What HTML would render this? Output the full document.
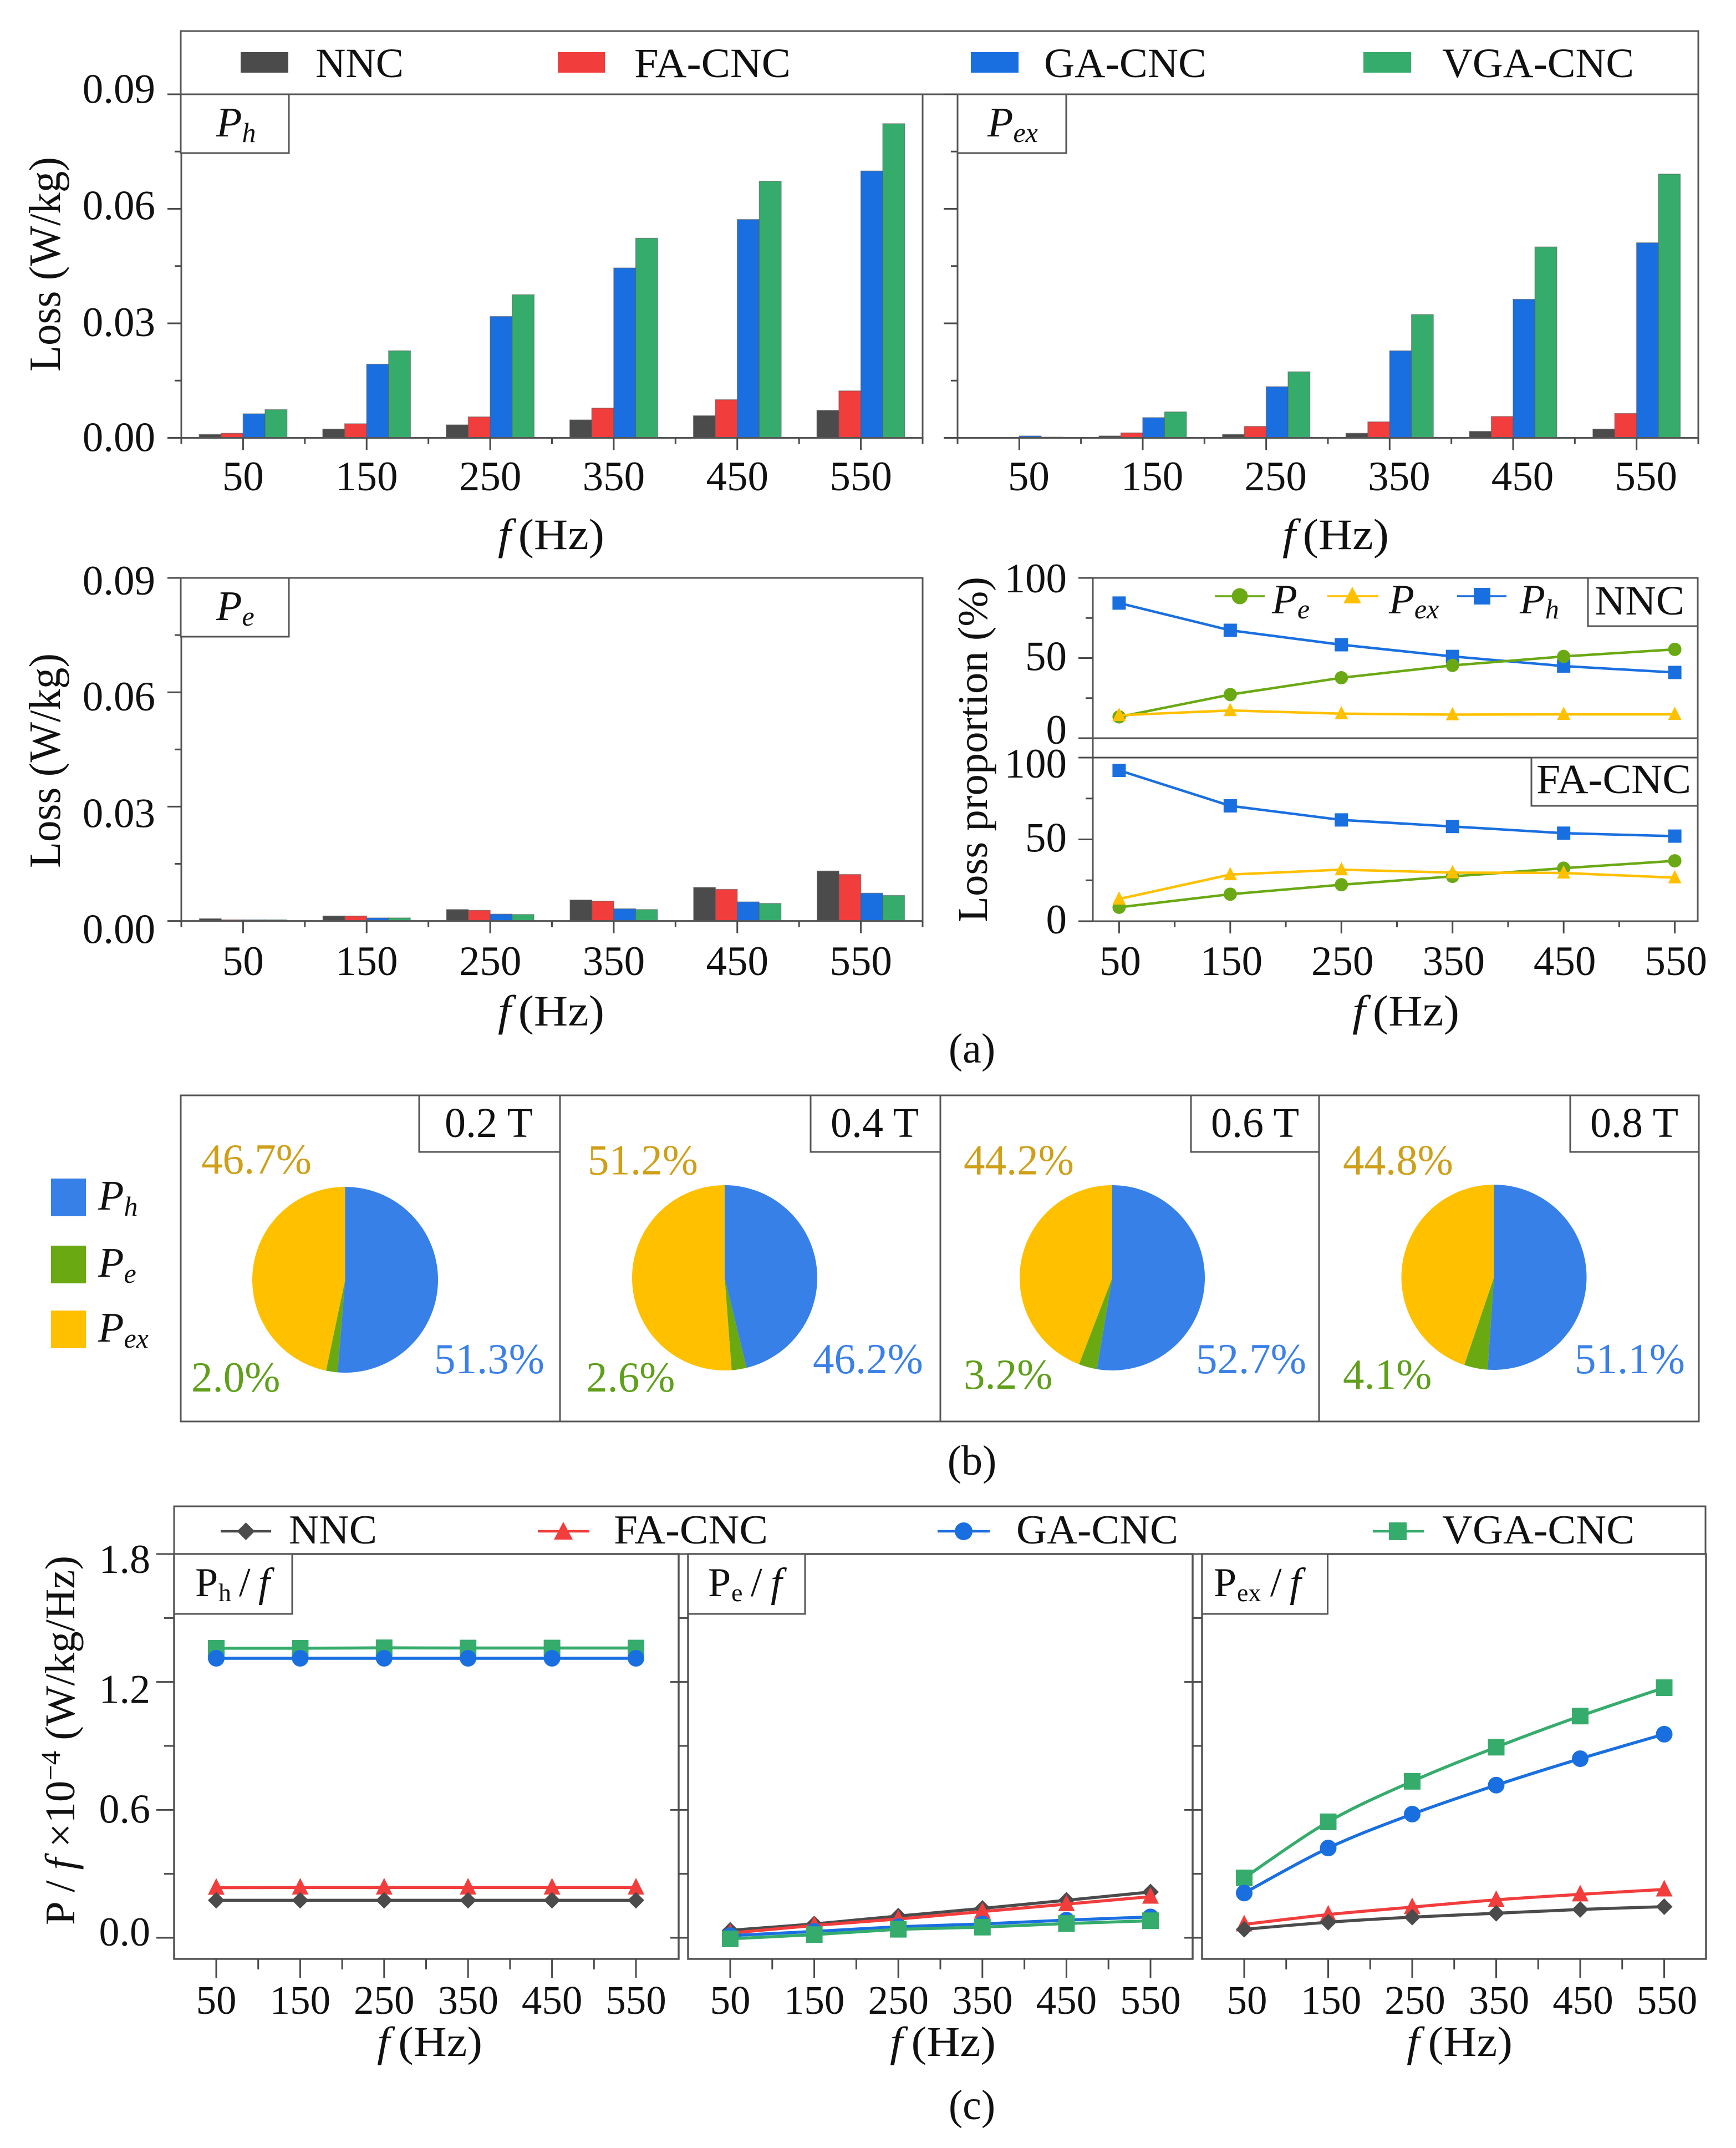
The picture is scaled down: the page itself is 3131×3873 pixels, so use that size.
<!DOCTYPE html>
<html lang="en">
<head>
<meta charset="utf-8">
<title>Loss separation charts</title>
<style>
html,body{margin:0;padding:0;background:#fff;}
svg{display:block;}
text{font-family:"Liberation Serif",serif;fill:#111;}
.i{font-style:italic;}
.box{fill:#fff;stroke:#555;stroke-width:3;}
.frame{fill:none;stroke:#555;stroke-width:3;}
</style>
</head>
<body>
<svg id="figure" xmlns="http://www.w3.org/2000/svg" width="3131" height="3873" viewBox="0 0 3131 3873">
<rect x="0" y="0" width="3131" height="3873" fill="#fff"/>

<!-- panel (a) top legend -->
<g>
  <rect class="frame" x="326" y="56" width="2737" height="114"/>
  <rect x="434" y="94" width="86" height="37" fill="#4b4b4b"/>
  <text x="569" y="139" font-size="75" textLength="159" lengthAdjust="spacingAndGlyphs">NNC</text>
  <rect x="1006" y="94" width="85" height="37" fill="#f23d3d"/>
  <text x="1144" y="139" font-size="75" textLength="282" lengthAdjust="spacingAndGlyphs">FA-CNC</text>
  <rect x="1751" y="94" width="86" height="37" fill="#1a6fe0"/>
  <text x="1883" y="139" font-size="75" textLength="293" lengthAdjust="spacingAndGlyphs">GA-CNC</text>
  <rect x="2459" y="94" width="86" height="37" fill="#36ac6c"/>
  <text x="2601" y="139" font-size="75" textLength="346" lengthAdjust="spacingAndGlyphs">VGA-CNC</text>
</g>

<g id="plots"></g>

<!-- panel (a) labels -->
<g>
  <rect class="box" x="326" y="170" width="195" height="106"/>
  <text x="390" y="246" font-size="76" class="i">P<tspan font-size="50" dy="10">h</tspan></text>
  <rect class="box" x="1727" y="170" width="196" height="106"/>
  <text x="1781" y="246" font-size="76" class="i">P<tspan font-size="50" dy="10">ex</tspan></text>
  <rect class="box" x="326" y="1042" width="195" height="106"/>
  <text x="390" y="1118" font-size="76" class="i">P<tspan font-size="50" dy="10">e</tspan></text>

  <text transform="translate(108,476.5) rotate(-90)" text-anchor="middle" font-size="80" textLength="387" lengthAdjust="spacingAndGlyphs">Loss (W/kg)</text>
  <text transform="translate(108,1371.5) rotate(-90)" text-anchor="middle" font-size="80" textLength="387" lengthAdjust="spacingAndGlyphs">Loss (W/kg)</text>
  <text transform="translate(1780,1351.5) rotate(-90)" text-anchor="middle" font-size="76" textLength="623" lengthAdjust="spacingAndGlyphs">Loss proportion (%)</text>

  <text x="898" y="990" font-size="78" textLength="192" lengthAdjust="spacingAndGlyphs"><tspan class="i">f</tspan><tspan dx="12">(Hz)</tspan></text>
  <text x="2313" y="990" font-size="78" textLength="192" lengthAdjust="spacingAndGlyphs"><tspan class="i">f</tspan><tspan dx="12">(Hz)</tspan></text>
  <text x="898" y="1849" font-size="78" textLength="192" lengthAdjust="spacingAndGlyphs"><tspan class="i">f</tspan><tspan dx="12">(Hz)</tspan></text>
  <text x="2439" y="1849" font-size="78" textLength="193" lengthAdjust="spacingAndGlyphs"><tspan class="i">f</tspan><tspan dx="12">(Hz)</tspan></text>
  <text x="1753" y="1916" text-anchor="middle" font-size="76">(a)</text>

  <rect class="box" x="2864" y="1042" width="198" height="87"/>
  <text x="2876" y="1108" font-size="75" textLength="162" lengthAdjust="spacingAndGlyphs">NNC</text>
  <rect class="box" x="2762" y="1366" width="300" height="87"/>
  <text x="2771" y="1430" font-size="75" textLength="279" lengthAdjust="spacingAndGlyphs">FA-CNC</text>

  <g>
    <line x1="2191" y1="1075" x2="2281" y2="1075" stroke="#6aa914" stroke-width="3.5"/>
    <circle cx="2236" cy="1075" r="14.5" fill="#6aa914"/>
    <text x="2294" y="1106" font-size="75" class="i">P<tspan font-size="50" dy="9">e</tspan></text>
    <line x1="2394" y1="1075" x2="2486" y2="1075" stroke="#ffc000" stroke-width="3.5"/>
    <polygon points="2439,1058 2455,1088 2423,1088" fill="#ffc000"/>
    <text x="2505" y="1106" font-size="75" class="i">P<tspan font-size="50" dy="9">ex</tspan></text>
    <line x1="2628" y1="1075" x2="2717" y2="1075" stroke="#1a6fe0" stroke-width="3.5"/>
    <rect x="2658" y="1060" width="30" height="30" fill="#1a6fe0"/>
    <text x="2741" y="1106" font-size="75" class="i">P<tspan font-size="50" dy="9">h</tspan></text>
  </g>
</g>

<!-- panel (b) frames -->
<g>
  <rect class="frame" x="326" y="1975" width="2738" height="588"/>
  <line x1="1010" y1="1975" x2="1010" y2="2563" stroke="#555" stroke-width="3"/>
  <line x1="1696" y1="1975" x2="1696" y2="2563" stroke="#555" stroke-width="3"/>
  <line x1="2379" y1="1975" x2="2379" y2="2563" stroke="#555" stroke-width="3"/>
  <rect class="box" x="756" y="1975" width="254" height="102"/>
  <text x="802" y="2050" font-size="76">0.2 T</text>
  <rect class="box" x="1462" y="1975" width="234" height="102"/>
  <text x="1498" y="2050" font-size="76">0.4 T</text>
  <rect class="box" x="2148" y="1975" width="231" height="102"/>
  <text x="2184" y="2050" font-size="76">0.6 T</text>
  <rect class="box" x="2832" y="1975" width="232" height="102"/>
  <text x="2868" y="2050" font-size="76">0.8 T</text>
  <g>
    <rect x="92" y="2125" width="63" height="68" fill="#3780e8"/>
    <text x="177" y="2181" font-size="76" class="i">P<tspan font-size="50" dy="11">h</tspan></text>
    <rect x="92" y="2246" width="63" height="68" fill="#6aa912"/>
    <text x="177" y="2302" font-size="76" class="i">P<tspan font-size="50" dy="11">e</tspan></text>
    <rect x="92" y="2363" width="63" height="68" fill="#ffc000"/>
    <text x="177" y="2419" font-size="76" class="i">P<tspan font-size="50" dy="11">ex</tspan></text>
  </g>
  <text x="1753" y="2659" text-anchor="middle" font-size="76">(b)</text>
</g>

<!-- panel (c) labels -->
<g>
  <g>
    <rect class="frame" x="314" y="2716" width="2762" height="86"/>
    <line x1="398" y1="2761" x2="489" y2="2761" stroke="#4b4b4b" stroke-width="4.5"/>
    <polygon points="443.5,2745 459.5,2761 443.5,2777 427.5,2761" fill="#4b4b4b"/>
    <text x="521" y="2783" font-size="74" textLength="159" lengthAdjust="spacingAndGlyphs">NNC</text>
    <line x1="970" y1="2761" x2="1063" y2="2761" stroke="#f23d3d" stroke-width="4.5"/>
    <polygon points="1016,2744 1033,2776 999,2776" fill="#f23d3d"/>
    <text x="1107" y="2783" font-size="74" textLength="278" lengthAdjust="spacingAndGlyphs">FA-CNC</text>
    <line x1="1691" y1="2761" x2="1785" y2="2761" stroke="#1a6fe0" stroke-width="4.5"/>
    <circle cx="1738" cy="2761" r="16" fill="#1a6fe0"/>
    <text x="1833" y="2783" font-size="74" textLength="292" lengthAdjust="spacingAndGlyphs">GA-CNC</text>
    <line x1="2476" y1="2761" x2="2568" y2="2761" stroke="#36ac6c" stroke-width="4.5"/>
    <rect x="2505" y="2745" width="32" height="32" fill="#36ac6c"/>
    <text x="2601" y="2783" font-size="74" textLength="347" lengthAdjust="spacingAndGlyphs">VGA-CNC</text>
  </g>
  <rect class="box" x="314" y="2802" width="213" height="108"/>
  <text y="2878" font-size="74"><tspan x="352">P</tspan><tspan x="394" font-size="46" dy="9">h</tspan><tspan x="431" dy="-9">/</tspan><tspan x="466" class="i">f</tspan></text>
  <rect class="box" x="1241" y="2802" width="211" height="108"/>
  <text y="2878" font-size="74"><tspan x="1277">P</tspan><tspan x="1319" font-size="46" dy="9">e</tspan><tspan x="1354" dy="-9">/</tspan><tspan x="1390" class="i">f</tspan></text>
  <rect class="box" x="2168" y="2802" width="226.5" height="108"/>
  <text y="2878" font-size="74"><tspan x="2189">P</tspan><tspan x="2231" font-size="46" dy="9">ex</tspan><tspan x="2291" dy="-9">/</tspan><tspan x="2326" class="i">f</tspan></text>

  <text transform="translate(134,3138) rotate(-90)" text-anchor="middle" font-size="76" textLength="666" lengthAdjust="spacingAndGlyphs">P / <tspan class="i">f</tspan> ×10<tspan font-size="50" dy="-26">−4</tspan><tspan dy="26"> (W/kg/Hz)</tspan></text>

  <text x="680" y="3707" font-size="76" textLength="190" lengthAdjust="spacingAndGlyphs"><tspan class="i">f</tspan><tspan dx="14">(Hz)</tspan></text>
  <text x="1605" y="3707" font-size="76" textLength="191" lengthAdjust="spacingAndGlyphs"><tspan class="i">f</tspan><tspan dx="14">(Hz)</tspan></text>
  <text x="2537" y="3707" font-size="76" textLength="191" lengthAdjust="spacingAndGlyphs"><tspan class="i">f</tspan><tspan dx="14">(Hz)</tspan></text>
  <text x="1753" y="3821" text-anchor="middle" font-size="76">(c)</text>
</g>
</svg>

<script>
// ---------- shared categories and tick labels ----------
const frequencies = [50, 150, 250, 350, 450, 550];
const frequencyLabels = ['50', '150', '250', '350', '450', '550'];
const lossTickLabels = ['0.00', '0.03', '0.06', '0.09'];
const proportionTickLabels = ['0', '50', '100'];
const ratioTickLabels = ['0.0', '0.6', '1.2', '1.8'];

// ---------- P_h bars (W/kg) ----------
const phNNC = [0.0009, 0.0023, 0.0034, 0.0047, 0.0058, 0.0072];
const phFA = [0.0012, 0.0037, 0.0055, 0.0078, 0.0100, 0.0123];
const phGA = [0.0063, 0.0193, 0.0318, 0.0445, 0.0572, 0.0699];
const phVGA = [0.0074, 0.0228, 0.0375, 0.0523, 0.0672, 0.0823];

// ---------- P_ex bars (W/kg) ----------
const pexNNC = [0.0001, 0.0005, 0.0009, 0.0012, 0.0017, 0.0023];
const pexFA = [0.0001, 0.0013, 0.0030, 0.0042, 0.0056, 0.0064];
const pexGA = [0.0005, 0.0053, 0.0134, 0.0228, 0.0363, 0.0511];
const pexVGA = [0.0002, 0.0068, 0.0173, 0.0323, 0.0500, 0.0691];

// ---------- P_e bars (W/kg) ----------
const peNNC = [0.0006, 0.0013, 0.0030, 0.0055, 0.0088, 0.0131];
const peFA = [0.0003, 0.0013, 0.0028, 0.0052, 0.0083, 0.0122];
const peGA = [0.0003, 0.0008, 0.0018, 0.0032, 0.0050, 0.0073];
const peVGA = [0.0003, 0.0008, 0.0017, 0.0030, 0.0046, 0.0067];

// ---------- loss proportion lines (%) ----------
const nncShareH = [84.3, 67.3, 58.3, 51.0, 45.0, 41.0];
const nncShareE = [13.3, 27.2, 37.7, 45.4, 51.0, 55.4];
const nncShareEx = [14.3, 17.3, 15.3, 14.7, 14.9, 14.9];
const faShareH = [92.2, 70.5, 61.9, 57.9, 53.8, 52.0];
const faShareE = [8.5, 16.5, 22.3, 27.4, 32.4, 36.9];
const faShareEx = [13.6, 28.5, 31.5, 29.7, 29.5, 26.6];

// ---------- pies (%) ----------
const pieFields = ['0.2 T', '0.4 T', '0.6 T', '0.8 T'];
const piePh = [51.3, 46.2, 52.7, 51.1];
const piePe = [2.0, 2.6, 3.2, 4.1];
const piePex = [46.7, 51.2, 44.2, 44.8];

// ---------- P/f lines ----------
const phfNNC = [0.176, 0.176, 0.176, 0.176, 0.176, 0.176];
const phfFA = [0.235, 0.236, 0.236, 0.236, 0.236, 0.236];
const phfGA = [1.311, 1.311, 1.311, 1.311, 1.311, 1.311];
const phfVGA = [1.358, 1.358, 1.360, 1.359, 1.359, 1.359];
const pefNNC = [0.035, 0.065, 0.102, 0.138, 0.176, 0.215];
const pefFA = [0.022, 0.058, 0.088, 0.123, 0.158, 0.193];
const pefGA = [0.010, 0.030, 0.052, 0.065, 0.083, 0.098];
const pefVGA = [-0.005, 0.015, 0.040, 0.050, 0.067, 0.080];
const pexfNNC = [0.040, 0.073, 0.097, 0.115, 0.133, 0.146];
const pexfFA = [0.063, 0.109, 0.144, 0.178, 0.204, 0.227];
const pexfGA = [0.210, 0.421, 0.580, 0.716, 0.840, 0.955];
const pexfVGA = [0.281, 0.544, 0.734, 0.894, 1.040, 1.173];

// ---------- drawing helpers ----------
const SVG_NS = 'http://www.w3.org/2000/svg';
const root = document.getElementById('plots');
const AXIS = '#4a4a4a';
const COLORS = { nnc: '#4b4b4b', fa: '#f23d3d', ga: '#1a6fe0', vga: '#36ac6c', pe: '#6aa914', pex: '#ffc000', ph: '#1a6fe0' };

function make(parent, tag, attrs, text) {
  const el = document.createElementNS(SVG_NS, tag);
  for (const k in attrs) el.setAttribute(k, attrs[k]);
  if (text !== undefined) el.textContent = text;
  parent.appendChild(el);
  return el;
}
function linearScale(dMin, dMax, rMin, rMax) {
  return v => rMin + (v - dMin) / (dMax - dMin) * (rMax - rMin);
}
function bandScale(n, left, right) {
  return i => left + (i + 0.5) * (right - left) / n;
}
function newGroup(name) {
  const g = make(root, 'g', {});
  
  
  return g;
}
function tick(g, x1, y1, x2, y2, name, w) {
  const l = make(g, 'line', { x1, y1, x2, y2, stroke: AXIS, 'stroke-width': w || 3 });
  
  
}
function drawYAxis(g, o) {
  const y = o.y;
  const values = o.tickLabels.map(Number);
  values.forEach((v, i) => {
    tick(g, o.x - o.major, y(v), o.x, y(v), 'y-tick');
    if (o.showLabels) {
      const t = make(g, 'text', { x: o.labelX, y: y(v) + o.labelDy[i], 'text-anchor': 'end', 'font-size': o.fontSize }, o.tickLabels[i]);
      
      
    }
    if (i < values.length - 1) {
      const m = y((v + values[i + 1]) / 2);
      tick(g, o.x - o.minor, m, o.x, m, 'y-minor-tick');
    }
  });
}
function drawXAxis(g, o) {
  frequencyLabels.forEach((lab, i) => {
    const cx = o.x(i);
    tick(g, cx, o.y0, cx, o.y0 + o.major, 'x-tick');
    const t = make(g, 'text', { x: cx + o.labelDx, y: o.labelY, 'text-anchor': 'middle', 'font-size': o.fontSize }, lab);
    
    
    if (i < frequencyLabels.length - 1) {
      const m = (cx + o.x(i + 1)) / 2;
      tick(g, m, o.y0, m, o.y0 + o.minor, 'x-minor-tick');
    }
  });
  if (o.edges) {
    o.edges.forEach(ex => tick(g, ex, o.y0, ex, o.y0 + o.minor, 'x-minor-tick'));
  }
}
function drawFrame(g, left, right, top, bottom, w) {
  const r = make(g, 'rect', { x: left, y: top, width: right - left, height: bottom - top, fill: 'none', stroke: '#555', 'stroke-width': w || 3 });
  
  
}
function drawBars(name, o, series) {
  const g = newGroup(name);
  const x = bandScale(frequencies.length, o.left, o.right);
  const y = linearScale(0, 0.09, o.y0, o.top);
  series.forEach((s, si) => {
    s.values.forEach((v, i) => {
      const bx = x(i) + (si - series.length / 2) * o.barW;
      const r = make(g, 'rect', { x: bx, y: y(v), width: o.barW, height: y(0) - y(v), fill: s.color, stroke: '#5a5a5a', 'stroke-opacity': 0.55, 'stroke-width': 1.5 });
      
      
    });
  });
  drawFrame(g, o.left, o.right, o.top, o.y0);
  drawYAxis(g, { x: o.left, y, tickLabels: lossTickLabels, major: 25, minor: 12, showLabels: o.showLabels, labelX: 280, labelDy: o.labelDy, fontSize: 75 });
  drawXAxis(g, { x, y0: o.y0, major: 22, minor: 11, labelDx: o.labelDx, labelY: o.labelY, fontSize: 75,
    edges: [o.left, o.right] });
}
function drawMarker(g, kind, cx, cy, s, color) {
  let m;
  if (kind === 'circle') m = make(g, 'circle', { cx, cy, r: s, fill: color });
  if (kind === 'square') m = make(g, 'rect', { x: cx - s, y: cy - s, width: 2 * s, height: 2 * s, fill: color });
  if (kind === 'triangle') m = make(g, 'polygon', { points: `${cx},${cy - s * 1.15} ${cx + s},${cy + s * 0.85} ${cx - s},${cy + s * 0.85}`, fill: color });
  if (kind === 'diamond') m = make(g, 'polygon', { points: `${cx},${cy - s} ${cx + s},${cy} ${cx},${cy + s} ${cx - s},${cy}`, fill: color });
  return m;
}
function pathThrough(pts, smooth) {
  let d = `M${pts[0][0]} ${pts[0][1]}`;
  for (let i = 1; i < pts.length; i++) {
    if (!smooth) { d += ` L${pts[i][0]} ${pts[i][1]}`; continue; }
    const p0 = pts[i - 2] || pts[i - 1], p1 = pts[i - 1], p2 = pts[i], p3 = pts[i + 1] || pts[i];
    d += ` C${p1[0] + (p2[0] - p0[0]) / 6} ${p1[1] + (p2[1] - p0[1]) / 6} ${p2[0] - (p3[0] - p1[0]) / 6} ${p2[1] - (p3[1] - p1[1]) / 6} ${p2[0]} ${p2[1]}`;
  }
  return d;
}
function drawLines(g, o, series) {
  series.forEach(s => {
    const pts = s.values.map((v, i) => [o.x(frequencies[i]), o.y(v)]);
    const p = make(g, 'path', { d: pathThrough(pts, o.smooth), fill: 'none', stroke: s.color, 'stroke-width': o.lineW });
    
    
    pts.forEach((pt, i) => {
      const m = drawMarker(g, s.marker, pt[0], pt[1], o.markerSize, s.color);
      
      
    });
  });
}
function bandOf(scale) {
  return i => scale(frequencies[i]);
}

// ---------- panel (a): bars ----------
drawBars('ph-bar-chart', { left: 327, right: 1664, top: 170, y0: 789.5, barW: 39.6, showLabels: true, labelDy: [24, 23, 19, 15.5], labelDx: 0, labelY: 884 }, [
  { key: 'nnc', color: COLORS.nnc, values: phNNC },
  { key: 'fa-cnc', color: COLORS.fa, values: phFA },
  { key: 'ga-cnc', color: COLORS.ga, values: phGA },
  { key: 'vga-cnc', color: COLORS.vga, values: phVGA }
]);
drawBars('pex-bar-chart', { left: 1727, right: 3063, top: 170, y0: 789.5, barW: 39.4, showLabels: false, labelDy: [], labelDx: 17, labelY: 884 }, [
  { key: 'nnc', color: COLORS.nnc, values: pexNNC },
  { key: 'fa-cnc', color: COLORS.fa, values: pexFA },
  { key: 'ga-cnc', color: COLORS.ga, values: pexGA },
  { key: 'vga-cnc', color: COLORS.vga, values: pexVGA }
]);
drawBars('pe-bar-chart', { left: 327, right: 1664, top: 1042, y0: 1660.6, barW: 39.4, showLabels: true, labelDy: [40, 37, 33, 30], labelDx: 0, labelY: 1758 }, [
  { key: 'nnc', color: COLORS.nnc, values: peNNC },
  { key: 'fa-cnc', color: COLORS.fa, values: peFA },
  { key: 'ga-cnc', color: COLORS.ga, values: peGA },
  { key: 'vga-cnc', color: COLORS.vga, values: peVGA }
]);

// ---------- panel (a): proportion lines ----------
(function () {
  const x = linearScale(50, 550, 2018.4, 3020.6);
  const gTop = newGroup('nnc-proportion-chart');
  const yTop = linearScale(0, 100, 1331, 1042);
  drawFrame(gTop, 1971, 3062, 1042, 1331);
  drawYAxis(gTop, { x: 1971, y: yTop, tickLabels: proportionTickLabels, major: 26, minor: 13, showLabels: true, labelX: 1924, labelDy: [10, 22, 26], fontSize: 75 });
  drawLines(gTop, { x, y: yTop, smooth: false, lineW: 4.5, markerSize: 12 }, [
    { key: 'nnc-ph', color: COLORS.ph, marker: 'square', values: nncShareH },
    { key: 'nnc-pe', color: COLORS.pe, marker: 'circle', values: nncShareE },
    { key: 'nnc-pex', color: COLORS.pex, marker: 'triangle', values: nncShareEx }
  ]);

  const gBot = newGroup('fa-cnc-proportion-chart');
  const yBot = linearScale(0, 100, 1661, 1366);
  drawFrame(gBot, 1971, 3062, 1331, 1661);
  tick(gBot, 1971, 1366, 3062, 1366, 'panel-top-axis');
  drawYAxis(gBot, { x: 1971, y: yBot, tickLabels: proportionTickLabels, major: 26, minor: 13, showLabels: true, labelX: 1924, labelDy: [22, 22, 36], fontSize: 75 });
  drawXAxis(gBot, { x: bandOf(x), y0: 1661, major: 22, minor: 11, labelDx: 2, labelY: 1758, fontSize: 75 });
  drawLines(gBot, { x, y: yBot, smooth: false, lineW: 4.5, markerSize: 12 }, [
    { key: 'fa-ph', color: COLORS.ph, marker: 'square', values: faShareH },
    { key: 'fa-pe', color: COLORS.pe, marker: 'circle', values: faShareE },
    { key: 'fa-pex', color: COLORS.pex, marker: 'triangle', values: faShareEx }
  ]);
})();

// ---------- panel (b): pies ----------
const pieSliceColors = { ph: '#3780e8', pe: '#6aa912', pex: '#ffc000' };
const pieTextColors = { ph: '#3a80e8', pe: '#5f9f1a', pex: '#cf9f18' };
const pieLayouts = [
  { cx: 622.5, cy: 2307.5, r: 167.5, pexX: 363, pexY: 2116, peX: 345, peY: 2509, phX: 783, phY: 2476 },
  { cx: 1307, cy: 2304, r: 167, pexX: 1060, pexY: 2117.5, peX: 1057, peY: 2509, phX: 1466, phY: 2476 },
  { cx: 2006, cy: 2304, r: 167, pexX: 1738, pexY: 2117.5, peX: 1738, peY: 2504, phX: 2157, phY: 2476 },
  { cx: 2694.5, cy: 2303, r: 167, pexX: 2422, pexY: 2117.5, peX: 2422, peY: 2504, phX: 2840, phY: 2476 }
];
function piePoint(L, pct) {
  const a = pct / 100 * 2 * Math.PI;
  return [L.cx + L.r * Math.sin(a), L.cy - L.r * Math.cos(a)];
}
pieFields.forEach((field, i) => {
  const L = pieLayouts[i];
  const g = newGroup('pie-' + field.replace(/[ .]/g, ''));
  const slices = [
    { key: 'ph', value: piePh[i] },
    { key: 'pe', value: piePe[i] },
    { key: 'pex', value: piePex[i] }
  ];
  const total = slices.reduce((a, s) => a + s.value, 0);
  let acc = 0;
  slices.forEach(s => {
    const start = acc / total * 100;
    acc += s.value;
    const end = acc / total * 100;
    const p0 = piePoint(L, start), p1 = piePoint(L, end);
    const large = end - start > 50 ? 1 : 0;
    const slice = make(g, 'path', { d: `M${L.cx} ${L.cy} L${p0[0]} ${p0[1]} A${L.r} ${L.r} 0 ${large} 1 ${p1[0]} ${p1[1]} Z`, fill: pieSliceColors[s.key] });
    
    
    const lab = make(g, 'text', { x: L[s.key + 'X'], y: L[s.key + 'Y'], 'font-size': 77, style: 'fill:' + pieTextColors[s.key] }, s.value.toFixed(1) + '%');
    
    
  });
});

// ---------- panel (c): P/f lines ----------
function drawRatioPanel(name, o, series) {
  const g = newGroup(name);
  const x = linearScale(50, 550, o.x50, o.x550);
  const y = linearScale(0, 1.8, 3494, 2802);
  drawFrame(g, o.left, o.right, 2802, 3532, 3.5);
  drawYAxis(g, { x: o.left, y, tickLabels: ratioTickLabels, major: 32, minor: 18, showLabels: o.showLabels, labelX: 271, labelDy: [14, 23, 38, 34], fontSize: 74 });
  drawXAxis(g, { x: bandOf(x), y0: 3532, major: 34, minor: 19, labelDx: o.labelDx, labelY: 3631, fontSize: 73 });
  drawLines(g, { x, y, smooth: o.smooth, lineW: 5.5, markerSize: 15 }, series);
}
const ratioStyle = {
  nnc: { key: 'nnc', color: COLORS.nnc, marker: 'diamond' },
  fa: { key: 'fa-cnc', color: COLORS.fa, marker: 'triangle' },
  ga: { key: 'ga-cnc', color: COLORS.ga, marker: 'circle' },
  vga: { key: 'vga-cnc', color: COLORS.vga, marker: 'square' }
};
drawRatioPanel('ph-over-f-chart', { left: 314, right: 1224, x50: 390, x550: 1147, showLabels: true, labelDx: 0, smooth: false }, [
  Object.assign({ values: phfVGA }, ratioStyle.vga),
  Object.assign({ values: phfGA }, ratioStyle.ga),
  Object.assign({ values: phfFA }, ratioStyle.fa),
  Object.assign({ values: phfNNC }, ratioStyle.nnc)
]);
drawRatioPanel('pe-over-f-chart', { left: 1241, right: 2151, x50: 1317, x550: 2075, showLabels: false, labelDx: 0, smooth: false }, [
  Object.assign({ values: pefNNC }, ratioStyle.nnc),
  Object.assign({ values: pefFA }, ratioStyle.fa),
  Object.assign({ values: pefGA }, ratioStyle.ga),
  Object.assign({ values: pefVGA }, ratioStyle.vga)
]);
drawRatioPanel('pex-over-f-chart', { left: 2168, right: 3077, x50: 2244, x550: 3001.5, showLabels: false, labelDx: 5, smooth: true }, [
  Object.assign({ values: pexfVGA }, ratioStyle.vga),
  Object.assign({ values: pexfGA }, ratioStyle.ga),
  Object.assign({ values: pexfFA }, ratioStyle.fa),
  Object.assign({ values: pexfNNC }, ratioStyle.nnc)
]);
</script>
</body>
</html>
